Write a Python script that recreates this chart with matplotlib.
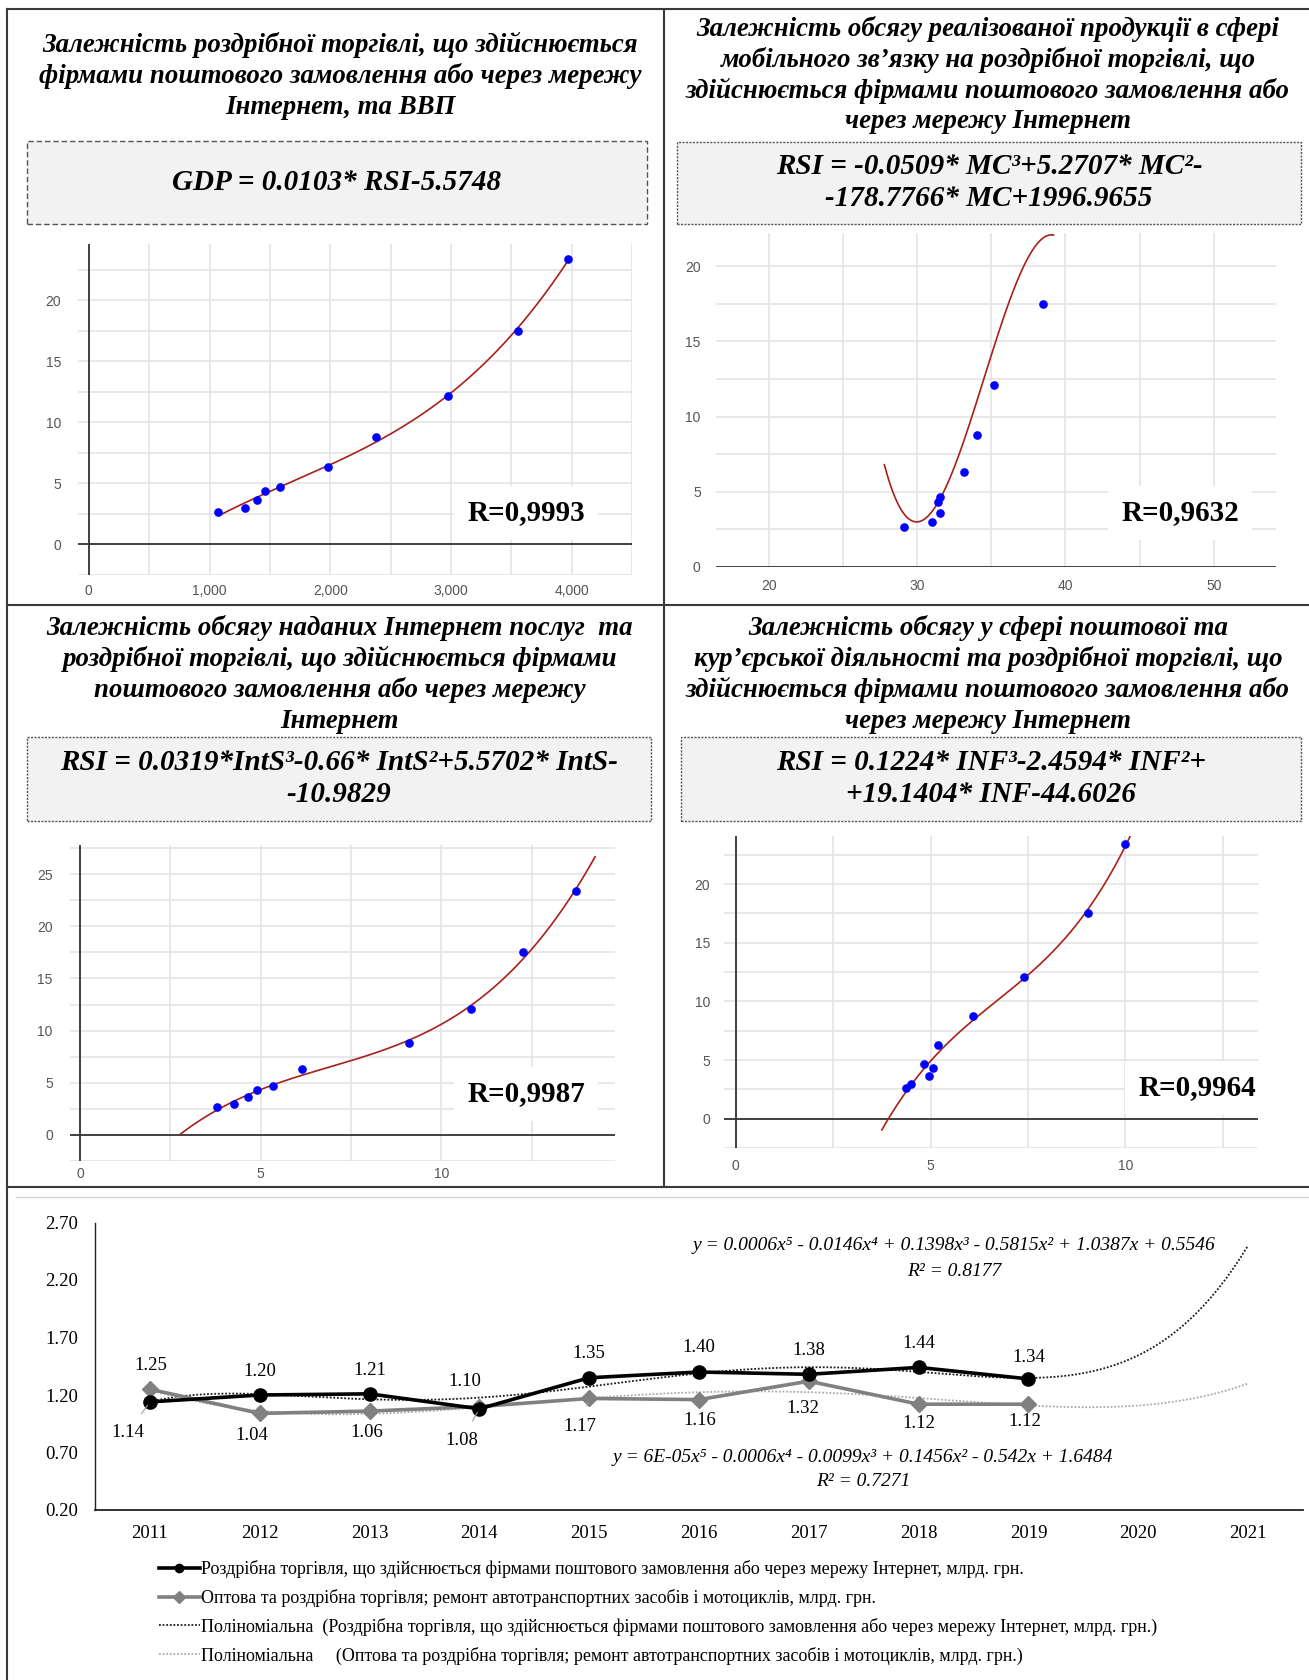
import numpy as np
import matplotlib.pyplot as plt
from matplotlib.lines import Line2D
from matplotlib.patches import Rectangle
from matplotlib.ticker import MultipleLocator, FuncFormatter

W, H = 1309, 1680

# --- values ---
rsi = [2.65, 2.97, 3.60, 4.35, 4.68, 6.30, 8.78, 12.10, 17.50, 23.40]
gdp = [1074, 1296, 1397, 1459, 1580, 1983, 2381, 2974, 3553, 3972]
mc = [29.12, 31.00, 31.54, 31.40, 31.57, 33.18, 34.05, 35.22, 38.49]
ints = [3.80, 4.26, 4.66, 4.91, 5.35, 6.13, 9.11, 10.81, 12.26, 13.72]
inf = [4.38, 4.49, 4.96, 5.07, 4.82, 5.19, 6.10, 7.39, 9.03, 10.00]

# cubic trend coefficients printed on the chart
mc_coef = [-0.0509, 5.2707, -178.7766, 1996.9655]
ints_coef = [0.0319, -0.66, 5.5702, -10.9829]
inf_coef = [0.1224, -2.4594, 19.1404, -44.6026]

r_labels = ['R=0,9993', 'R=0,9632', 'R=0,9987', 'R=0,9964']

titles = [
    ['Залежність роздрібної торгівлі, що здійснюється',
     'фірмами поштового замовлення або через мережу',
     'Інтернет, та ВВП'],
    ['Залежність обсягу реалізованої продукції в сфері',
     'мобільного зв’язку на роздрібної торгівлі, що',
     'здійснюється фірмами поштового замовлення або',
     'через мережу Інтернет'],
    ['Залежність обсягу наданих Інтернет послуг  та',
     'роздрібної торгівлі, що здійснюється фірмами',
     'поштового замовлення або через мережу',
     'Інтернет'],
    ['Залежність обсягу у сфері поштової та',
     'кур’єрської діяльності та роздрібної торгівлі, що',
     'здійснюється фірмами поштового замовлення або',
     'через мережу Інтернет'],
]
equations = [
    ['GDP = 0.0103* RSI-5.5748'],
    ['RSI = -0.0509* MC³+5.2707* MC²-', '-178.7766* MC+1996.9655'],
    ['RSI = 0.0319*IntS³-0.66* IntS²+5.5702* IntS-', '-10.9829'],
    ['RSI = 0.1224* INF³-2.4594* INF²+', '+19.1404* INF-44.6026'],
]

years = list(range(2011, 2022))
retail_net = [1.14, 1.20, 1.21, 1.08, 1.35, 1.40, 1.38, 1.44, 1.34]
wholesale = [1.25, 1.04, 1.06, 1.10, 1.17, 1.16, 1.32, 1.12, 1.12]
eq_net = 'y = 0.0006x⁵ - 0.0146x⁴ + 0.1398x³ - 0.5815x² + 1.0387x + 0.5546'
r2_net = 'R² = 0.8177'
eq_whole = 'y = 6E-05x⁵ - 0.0006x⁴ - 0.0099x³ + 0.1456x² - 0.542x + 1.6484'
r2_whole = 'R² = 0.7271'
legend_labels = [
    'Роздрібна торгівля, що здійснюється фірмами поштового замовлення або через мережу Інтернет, млрд. грн.',
    'Оптова та роздрібна торгівля; ремонт автотранспортних засобів і мотоциклів, млрд. грн.',
    'Поліноміальна  (Роздрібна торгівля, що здійснюється фірмами поштового замовлення або через мережу Інтернет, млрд. грн.)',
    'Поліноміальна     (Оптова та роздрібна торгівля; ремонт автотранспортних засобів і мотоциклів, млрд. грн.)',
]

SERIF = ['Liberation Serif', 'DejaVu Serif']
SANS = ['Liberation Sans', 'DejaVu Sans']

fig = plt.figure(figsize=(W / 100, H / 100), dpi=100)


def fx(x):
    return x / W


def fy(y):
    return 1 - y / H


def px_rect(x0, y0, x1, y1):
    return [fx(x0), fy(y1), (x1 - x0) / W, (y1 - y0) / H]


def frame_line(x0, y0, x1, y1, color='#3a3a3a', lw=1.5):
    fig.add_artist(Line2D([fx(x0), fx(x1)], [fy(y0), fy(y1)],
                          transform=fig.transFigure, color=color, lw=lw))


# panel frame
frame_line(7, 9, W, 9)
frame_line(7, 9, 7, H)
frame_line(664, 9, 664, 1187)
frame_line(7, 605, W, 605)
frame_line(7, 1187, W, 1187)
frame_line(16, 1197, W, 1197, color='#d4d4d4', lw=1.0)

# titles and equation boxes
title_pos = [(340, 45), (988, 29), (340, 628), (988, 628)]
boxes = [(27, 141, 647, 224), (677, 142, 1301, 224),
         (27, 737, 651, 821), (681, 737, 1301, 821)]
eq_y = [[182], [166, 199], [763, 795], [763, 795]]
box_ls = [(0, (4, 2)), (0, (1.5, 1)), (0, (1.5, 1)), (0, (1.5, 1))]

for i in range(4):
    cx, y0 = title_pos[i]
    for k, line in enumerate(titles[i]):
        fig.text(fx(cx), fy(y0 + 31 * k), line, ha='center', va='center',
                 family=SERIF, fontsize=19.4, fontweight='bold', style='italic')
    bx0, by0, bx1, by1 = boxes[i]
    fig.add_artist(Rectangle((fx(bx0), fy(by1)), (bx1 - bx0) / W, (by1 - by0) / H,
                             transform=fig.transFigure, facecolor='#f2f2f2',
                             edgecolor='#555555', lw=1.0, linestyle=box_ls[i]))
    for k, line in enumerate(equations[i]):
        fig.text(fx((bx0 + bx1) / 2), fy(eq_y[i][k]), line, ha='center', va='center',
                 family=SERIF, fontsize=21, fontweight='bold', style='italic')


def scatter_panel(rect, xs, ys, xlim, ylim, xstep, curve_x, curve_y,
                  xfmt, ypad, xpad, yaxis_line=True):
    ax = fig.add_axes(px_rect(*rect))
    ax.set_xlim(*xlim)
    ax.set_ylim(*ylim)
    ax.xaxis.set_major_locator(MultipleLocator(xstep))
    ax.xaxis.set_minor_locator(MultipleLocator(xstep / 2))
    ax.yaxis.set_major_locator(MultipleLocator(5))
    ax.yaxis.set_minor_locator(MultipleLocator(2.5))
    ax.xaxis.set_major_formatter(FuncFormatter(xfmt))
    ax.yaxis.set_major_formatter(FuncFormatter(lambda v, p: '%d' % v))
    ax.grid(True, which='both', color='#e4e4e4', lw=1.2)
    ax.set_axisbelow(True)
    for s in ax.spines.values():
        s.set_visible(False)
    ax.tick_params(which='both', length=0, labelsize=10, labelcolor='#555555')
    ax.tick_params(axis='y', pad=ypad)
    ax.tick_params(axis='x', pad=xpad)
    for lab in ax.get_xticklabels() + ax.get_yticklabels():
        lab.set_family(SANS)
    ax.axhline(0, color='#333333', lw=1.3, zorder=2)
    if yaxis_line:
        ax.axvline(0, color='#333333', lw=1.3, zorder=2)
    ax.plot(curve_x, curve_y, color='#a8201a', lw=1.2, zorder=3)
    ax.plot(xs, ys, 'o', color='#0000ff', ms=5.2, zorder=4)
    return ax


# 1: RSI vs GDP, cubic trend over the data
c1 = np.polyfit(gdp, rsi, 3)
x1 = np.linspace(min(gdp), max(gdp), 200)
scatter_panel((78, 244, 632, 574.5), gdp, rsi, (-90, 4500), (-2.5, 24.6), 1000,
              x1, np.polyval(c1, x1), lambda v, p: '{:,.0f}'.format(v), 12, 7)

# 2: RSI vs MC (last RSI value lies above the visible range)
x2 = np.linspace(27.8, 39.2, 200)
scatter_panel((716, 233, 1276, 567), mc, rsi[:len(mc)], (16.45, 54.2), (0, 22.2), 10,
              x2, np.polyval(mc_coef, x2), lambda v, p: '%d' % v, 11, 9, yaxis_line=False)

# 3: RSI vs IntS
x3 = np.linspace(2.75, 14.25, 200)
scatter_panel((69.5, 845, 615, 1161), ints, rsi, (-0.29, 14.8), (-2.5, 27.8), 5,
              x3, np.polyval(ints_coef, x3), lambda v, p: '%d' % v, 12, 4)

# 4: RSI vs INF
x4 = np.linspace(3.75, 10.3, 200)
scatter_panel((724, 836, 1258, 1148), inf, rsi, (-0.3, 13.4), (-2.5, 24.1), 5,
              x4, np.polyval(inf_coef, x4), lambda v, p: '%d' % v, 10, 8)

r_pos = [(526, 513), (1180, 513), (526, 1094), (1197, 1088)]
for (rx, ry), txt in zip(r_pos, r_labels):
    fig.text(fx(rx), fy(ry), txt, ha='center', va='center', family=SERIF,
             fontsize=21, fontweight='bold',
             bbox=dict(boxstyle='square,pad=0.45', fc='white', ec='none'))

# bottom line chart
ax = fig.add_axes(px_rect(95, 1222.5, 1303, 1510))
ax.set_xlim(2010.5, 2021.5)
ax.set_ylim(0.2, 2.7)
ax.set_xticks(years)
ax.set_yticks(np.arange(0.2, 2.71, 0.5))
ax.yaxis.set_major_formatter(FuncFormatter(lambda v, p: '%.2f' % v))
for s in ['top', 'right']:
    ax.spines[s].set_visible(False)
ax.spines['left'].set_color('#222222')
ax.spines['bottom'].set_color('#222222')
ax.spines['left'].set_linewidth(1.0)
ax.spines['bottom'].set_linewidth(1.3)
ax.tick_params(length=0, labelsize=13.5)
ax.tick_params(axis='y', pad=12)
ax.tick_params(axis='x', pad=11)
for lab in ax.get_xticklabels() + ax.get_yticklabels():
    lab.set_family(SERIF)

t = np.arange(1, len(retail_net) + 1)
tt = np.linspace(1, len(years), 300)
trend_net = np.polyval(np.polyfit(t, retail_net, 5), tt)
trend_whole = np.polyval(np.polyfit(t, wholesale, 5), tt)
yrs = years[:len(retail_net)]

h3, = ax.plot(years[0] - 1 + tt, trend_net, color='#1a1a1a', lw=1.3,
              linestyle=(0, (1, 1)), zorder=2)
h4, = ax.plot(years[0] - 1 + tt, trend_whole, color='#aaaaaa', lw=1.3,
              linestyle=(0, (1, 1)), zorder=2)
h2, = ax.plot(yrs, wholesale, color='#808080', lw=2.6, marker='D', ms=8, zorder=3)
h1, = ax.plot(yrs, retail_net, color='#000000', lw=2.6, marker='o', ms=9.5, zorder=4)

net_off = [(-22, -31), (0, 24), (0, 23), (-18, -32), (0, 24), (0, 24), (0, 24), (0, 24), (0, 21)]
whole_off = [(1, 24), (-8, -22), (-3, -21), (-15, 25), (-9, -28), (1, -21), (-6, -27), (0, -19), (-4, -17)]
net_lead = [True, False, False, True, False, False, False, False, False]
whole_lead = [False, False, False, True, True, False, False, False, False]

for vals, offs, leads in [(retail_net, net_off, net_lead), (wholesale, whole_off, whole_lead)]:
    for yr, v, off, lead in zip(yrs, vals, offs, leads):
        kw = {}
        if lead:
            kw['arrowprops'] = dict(arrowstyle='-', color='#a0a0a0', lw=0.8,
                                    shrinkA=7, shrinkB=3)
        ax.annotate('%.2f' % v, (yr, v), xytext=off, textcoords='offset pixels',
                    ha='center', va='center', fontsize=13.5, family=SERIF, zorder=5, **kw)

fig.text(fx(954), fy(1246), eq_net, ha='center', va='center', family=SERIF,
         style='italic', fontsize=14)
fig.text(fx(954), fy(1271), r2_net, ha='center', va='center', family=SERIF,
         style='italic', fontsize=14)
fig.text(fx(863), fy(1457), eq_whole, ha='center', va='center', family=SERIF,
         style='italic', fontsize=14)
fig.text(fx(863), fy(1482), r2_whole, ha='center', va='center', family=SERIF,
         style='italic', fontsize=14)

leg = fig.legend([h1, h2, h3, h4], legend_labels, loc='upper left',
                 bbox_to_anchor=(fx(150), fy(1551)), frameon=False,
                 prop={'family': SERIF, 'size': 13}, handlelength=2.25,
                 handletextpad=0.1, labelspacing=0.6, borderpad=0)
for hl in leg.legend_handles[:2]:
    hl.set_markersize(6)

fig.savefig('out.png', dpi=100)
